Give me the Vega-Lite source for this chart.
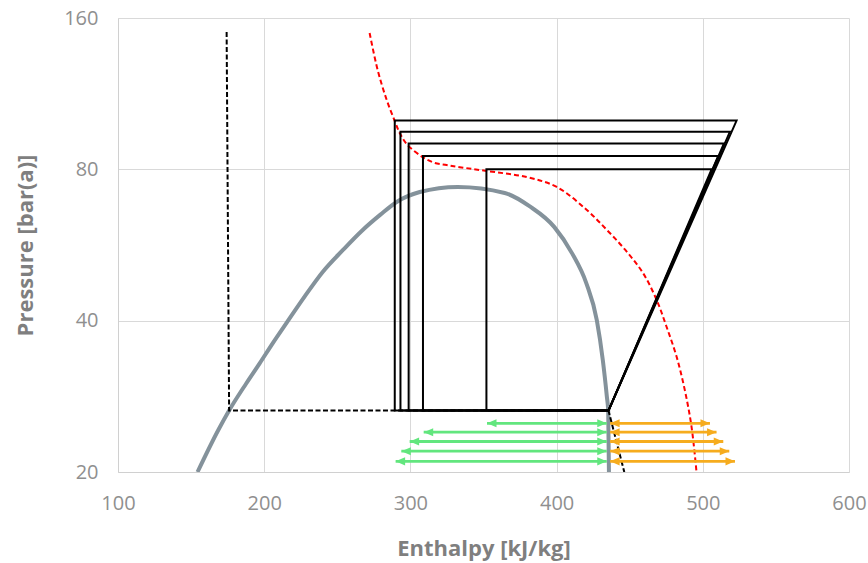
{
  "$schema": "https://vega.github.io/schema/vega-lite/v6.json",
  "autosize": {"type": "none"},
  "width": 731,
  "height": 454,
  "padding": {"left": 118, "top": 18, "right": 19, "bottom": 91},
  "background": "white",
  "config": {
    "view": {"stroke": null},
    "font": "Open Sans",
    "axis": {
      "gridColor": "#D9D9D9",
      "gridWidth": 1,
      "domainColor": "#D0D0D0",
      "ticks": false,
      "labelFlush": false,
      "labelColor": "#8F8F8F",
      "labelFontSize": 20,
      "labelFontWeight": 400,
      "titleColor": "#7F7F7F",
      "titleFontSize": 22,
      "titleFontWeight": "bold"
    }
  },
  "datasets": {
    "dome": [
      {"i": 0, "h": 154.4, "P": 20},
      {"i": 1, "h": 168.8, "P": 24.3},
      {"i": 2, "h": 176.3, "P": 26.6},
      {"i": 3, "h": 187.7, "P": 30.0},
      {"i": 4, "h": 196.9, "P": 32.9},
      {"i": 5, "h": 205.9, "P": 36.1},
      {"i": 6, "h": 215.3, "P": 39.6},
      {"i": 7, "h": 227.5, "P": 44.6},
      {"i": 8, "h": 240.0, "P": 50.0},
      {"i": 9, "h": 253.9, "P": 55.3},
      {"i": 10, "h": 267.4, "P": 60.6},
      {"i": 11, "h": 279.5, "P": 65.0},
      {"i": 12, "h": 290.6, "P": 68.9},
      {"i": 13, "h": 306.4, "P": 72.1},
      {"i": 14, "h": 332.4, "P": 73.8},
      {"i": 15, "h": 364.5, "P": 71.8},
      {"i": 16, "h": 381.7, "P": 67.5},
      {"i": 17, "h": 398.5, "P": 61.4},
      {"i": 18, "h": 410.5, "P": 54.5},
      {"i": 19, "h": 420.3, "P": 47.5},
      {"i": 20, "h": 427.5, "P": 40.1},
      {"i": 21, "h": 431.6, "P": 33.4},
      {"i": 22, "h": 434.4, "P": 28.2},
      {"i": 23, "h": 435.3, "P": 26.5},
      {"i": 24, "h": 435.8, "P": 20}
    ],
    "dash": [
      {"i": 0, "h": 174.3, "P": 150.1},
      {"i": 1, "h": 176.0, "P": 26.5},
      {"i": 2, "h": 435.5, "P": 26.5},
      {"i": 3, "h": 446.3, "P": 20}
    ],
    "red": [
      {"i": 0, "h": 272.1, "P": 149.4},
      {"i": 1, "h": 277.6, "P": 126.1},
      {"i": 2, "h": 283.8, "P": 109.9},
      {"i": 3, "h": 289.3, "P": 99.8},
      {"i": 4, "h": 292.7, "P": 94.5},
      {"i": 5, "h": 297.5, "P": 89.8},
      {"i": 6, "h": 308.4, "P": 84.6},
      {"i": 7, "h": 316.6, "P": 82.4},
      {"i": 8, "h": 324.8, "P": 81.6},
      {"i": 9, "h": 333.7, "P": 80.8},
      {"i": 10, "h": 352.2, "P": 79.4},
      {"i": 11, "h": 379.6, "P": 77.2},
      {"i": 12, "h": 400.1, "P": 73.8},
      {"i": 13, "h": 420.7, "P": 66.4},
      {"i": 14, "h": 434.4, "P": 60.6},
      {"i": 15, "h": 447.0, "P": 55.3},
      {"i": 16, "h": 459.2, "P": 49.7},
      {"i": 17, "h": 468.4, "P": 44.0},
      {"i": 18, "h": 475.2, "P": 38.9},
      {"i": 19, "h": 482.1, "P": 33.9},
      {"i": 20, "h": 487.7, "P": 29.1},
      {"i": 21, "h": 492.3, "P": 24.6},
      {"i": 22, "h": 495.7, "P": 20}
    ],
    "cycles": [
      {"c": 1, "i": 0, "h": 435.5, "P": 26.5}, {"c": 1, "i": 1, "h": 523.1, "P": 100}, {"c": 1, "i": 2, "h": 289.3, "P": 100}, {"c": 1, "i": 3, "h": 289.3, "P": 26.5}, {"c": 1, "i": 4, "h": 435.5, "P": 26.5},
      {"c": 2, "i": 0, "h": 435.5, "P": 26.5}, {"c": 2, "i": 1, "h": 518.5, "P": 95}, {"c": 2, "i": 2, "h": 293.2, "P": 95}, {"c": 2, "i": 3, "h": 293.2, "P": 26.5}, {"c": 2, "i": 4, "h": 435.5, "P": 26.5},
      {"c": 3, "i": 0, "h": 435.5, "P": 26.5}, {"c": 3, "i": 1, "h": 514.4, "P": 90}, {"c": 3, "i": 2, "h": 298.8, "P": 90}, {"c": 3, "i": 3, "h": 298.8, "P": 26.5}, {"c": 3, "i": 4, "h": 435.5, "P": 26.5},
      {"c": 4, "i": 0, "h": 435.5, "P": 26.5}, {"c": 4, "i": 1, "h": 510.5, "P": 85}, {"c": 4, "i": 2, "h": 308.6, "P": 85}, {"c": 4, "i": 3, "h": 308.6, "P": 26.5}, {"c": 4, "i": 4, "h": 435.5, "P": 26.5},
      {"c": 5, "i": 0, "h": 435.5, "P": 26.5}, {"c": 5, "i": 1, "h": 506.0, "P": 80}, {"c": 5, "i": 2, "h": 352.0, "P": 80}, {"c": 5, "i": 3, "h": 352.0, "P": 26.5}, {"c": 5, "i": 4, "h": 435.5, "P": 26.5}
    ],
    "arrows": [
      {"P": 25, "h": 352.4, "h2": 434.3, "kind": "g"},
      {"P": 24, "h": 309.1, "h2": 434.3, "kind": "g"},
      {"P": 23, "h": 299.5, "h2": 434.3, "kind": "g"},
      {"P": 22, "h": 293.8, "h2": 434.3, "kind": "g"},
      {"P": 21, "h": 289.9, "h2": 434.3, "kind": "g"},
      {"P": 25, "h": 436.6, "h2": 504.9, "kind": "o"},
      {"P": 24, "h": 436.6, "h2": 509.4, "kind": "o"},
      {"P": 23, "h": 436.6, "h2": 514.0, "kind": "o"},
      {"P": 22, "h": 436.6, "h2": 518.1, "kind": "o"},
      {"P": 21, "h": 436.6, "h2": 522.0, "kind": "o"}
    ],
    "heads": [
      {"P": 25, "h": 352.4, "kind": "g", "dir": "l"}, {"P": 25, "h": 434.3, "kind": "g", "dir": "r"},
      {"P": 24, "h": 309.1, "kind": "g", "dir": "l"}, {"P": 24, "h": 434.3, "kind": "g", "dir": "r"},
      {"P": 23, "h": 299.5, "kind": "g", "dir": "l"}, {"P": 23, "h": 434.3, "kind": "g", "dir": "r"},
      {"P": 22, "h": 293.8, "kind": "g", "dir": "l"}, {"P": 22, "h": 434.3, "kind": "g", "dir": "r"},
      {"P": 21, "h": 289.9, "kind": "g", "dir": "l"}, {"P": 21, "h": 434.3, "kind": "g", "dir": "r"},
      {"P": 25, "h": 436.6, "kind": "o", "dir": "l"}, {"P": 25, "h": 504.9, "kind": "o", "dir": "r"},
      {"P": 24, "h": 436.6, "kind": "o", "dir": "l"}, {"P": 24, "h": 509.4, "kind": "o", "dir": "r"},
      {"P": 23, "h": 436.6, "kind": "o", "dir": "l"}, {"P": 23, "h": 514.0, "kind": "o", "dir": "r"},
      {"P": 22, "h": 436.6, "kind": "o", "dir": "l"}, {"P": 22, "h": 518.1, "kind": "o", "dir": "r"},
      {"P": 21, "h": 436.6, "kind": "o", "dir": "l"}, {"P": 21, "h": 522.0, "kind": "o", "dir": "r"}
    ]
  },
  "encoding": {
    "x": {
      "field": "h",
      "type": "quantitative",
      "scale": {"domain": [100, 600], "nice": false, "zero": false},
      "axis": {"values": [100, 200, 300, 400, 500, 600], "title": "Enthalpy [kJ/kg]", "labelPadding": 21, "titlePadding": 25, "grid": true}
    },
    "y": {
      "field": "P",
      "type": "quantitative",
      "scale": {"type": "log", "base": 2, "domain": [20, 160], "nice": false},
      "axis": {"values": [20, 40, 80, 160], "format": "d", "title": "Pressure [bar(a)]", "labelPadding": 20, "titlePadding": 26, "grid": true}
    }
  },
  "layer": [
    {
      "data": {"name": "dome"},
      "mark": {"type": "line", "color": "#84929B", "strokeWidth": 4, "interpolate": "monotone", "clip": true},
      "encoding": {"order": {"field": "i", "type": "quantitative"}}
    },
    {
      "data": {"name": "dash"},
      "mark": {"type": "line", "color": "#000000", "strokeWidth": 2, "strokeDash": [5, 2.5], "clip": true},
      "encoding": {"order": {"field": "i", "type": "quantitative"}}
    },
    {
      "data": {"name": "red"},
      "mark": {"type": "line", "color": "#FF0000", "strokeWidth": 2, "strokeDash": [5, 3], "interpolate": "catmull-rom", "clip": true},
      "encoding": {"order": {"field": "i", "type": "quantitative"}}
    },
    {
      "data": {"name": "cycles"},
      "mark": {"type": "line", "color": "#000000", "strokeWidth": 2, "clip": true},
      "encoding": {
        "detail": {"field": "c", "type": "nominal"},
        "order": {"field": "i", "type": "quantitative"}
      }
    },
    {
      "data": {"name": "arrows"},
      "mark": {"type": "rule", "strokeWidth": 2.8},
      "encoding": {
        "x2": {"field": "h2"},
        "color": {"field": "kind", "type": "nominal", "scale": {"domain": ["g", "o"], "range": ["#62E67E", "#F6AC1E"]}, "legend": null}
      }
    },
    {
      "data": {"name": "heads"},
      "mark": {"type": "point", "filled": true, "opacity": 1, "size": 90, "strokeWidth": 0},
      "encoding": {
        "color": {"field": "kind", "type": "nominal", "scale": {"domain": ["g", "o"], "range": ["#62E67E", "#F6AC1E"]}, "legend": null},
        "shape": {"field": "dir", "type": "nominal", "scale": {"domain": ["l", "r"], "range": ["M0,0L2,-0.85L2,0.85Z", "M0,0L-2,-0.85L-2,0.85Z"]}, "legend": null}
      }
    }
  ]
}
